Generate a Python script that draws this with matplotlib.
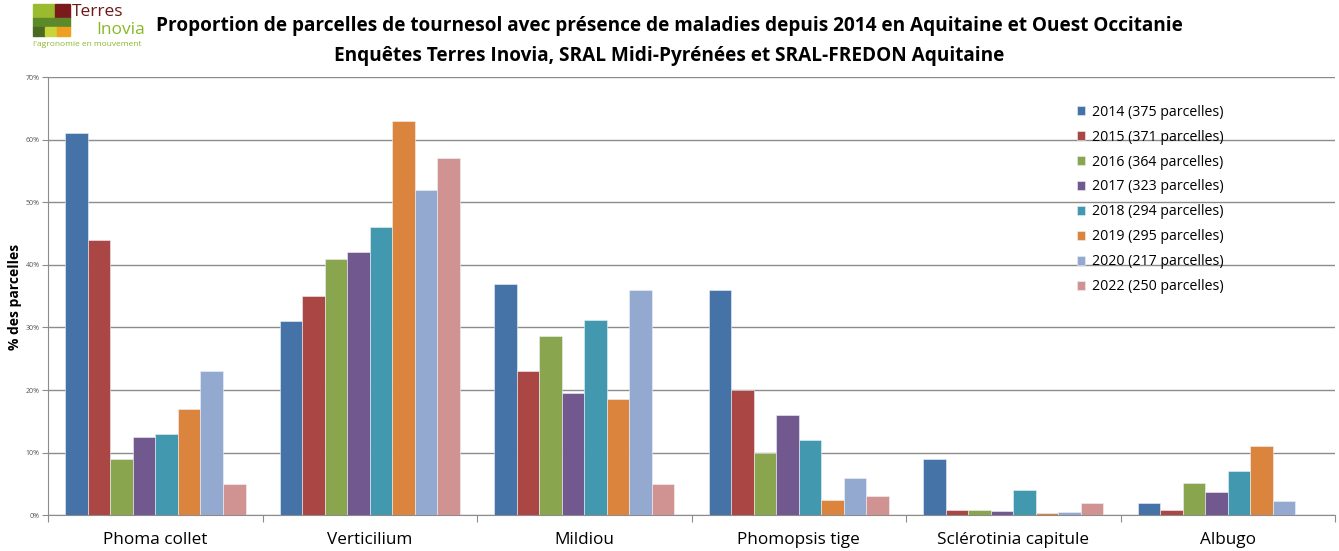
import matplotlib.pyplot as plt
import matplotlib.patches as mpatches
import numpy as np

maladies = ["Phoma collet", "Verticilium", "Mildiou", "Phomopsis tige",
            "Sclérotinia capitule", "Albugo"]
annees = ["2014 (375 parcelles)", "2015 (371 parcelles)", "2016 (364 parcelles)",
          "2017 (323 parcelles)", "2018 (294 parcelles)", "2019 (295 parcelles)",
          "2020 (217 parcelles)", "2022 (250 parcelles)"]

# % of plots per year, one list per disease order above
v2014 = [61, 31, 37, 36, 9, 1.9]
v2015 = [44, 35, 23, 20, 0.9, 0.9]
v2016 = [9, 41, 28.6, 10, 0.9, 5.1]
v2017 = [12.5, 42, 19.5, 16, 0.6, 3.7]
v2018 = [13, 46, 31.2, 12, 4, 7.1]
v2019 = [17, 63, 18.6, 2.5, 0.3, 11.1]
v2020 = [23, 52, 36, 6, 0.45, 2.2]
v2022 = [5, 57, 5, 3, 1.9, 0]

series = [v2014, v2015, v2016, v2017, v2018, v2019, v2020, v2022]
couleurs = ["#4572A7", "#AA4643", "#89A54E", "#71588F",
            "#4198AF", "#DB843D", "#93A9CF", "#D19392"]

plt.rcParams['font.family'] = ['Open Sans', 'DejaVu Sans']

fig = plt.figure(figsize=(13.39, 5.51), dpi=100)
ax = fig.add_axes([0.036, 0.065, 0.961, 0.795])

n = len(series)
w = 0.84 / n
x = np.arange(len(maladies))
for i, (vals, c, lab) in enumerate(zip(series, couleurs, annees)):
    ax.bar(x - 0.42 + w * (i + 0.5), vals, width=w, color=c, label=lab,
           edgecolor="#eef2f8", linewidth=0.4, zorder=3)

ax.set_xlim(-0.5, len(maladies) - 0.5)
ax.set_ylim(0, 70)
ax.set_yticks(range(0, 71, 10))
ax.set_yticklabels([f"{t}%" for t in range(0, 71, 10)], fontsize=5, color="#555555")
ax.yaxis.grid(True, color="#8c8c8c", linewidth=1, zorder=0)
ax.tick_params(axis="y", length=4, color="#8c8c8c", pad=2)

ax.set_xticks(np.arange(-0.5, len(maladies), 1))
ax.set_xticklabels([])
ax.set_xticks(x, minor=True)
ax.set_xticklabels(maladies, minor=True, fontsize=12.3)
ax.tick_params(axis="x", which="major", length=5, color="#8c8c8c", direction="out")
ax.tick_params(axis="x", which="minor", length=0, pad=12)

for s in ["top", "right"]:
    ax.spines[s].set_visible(False)
for s in ["left", "bottom"]:
    ax.spines[s].set_color("#8c8c8c")

fig.text(15 / 1339, 1 - 297 / 551, "% des parcelles", rotation=90, fontsize=10,
         fontweight="bold", ha="center", va="center")

ax.legend(loc="upper left", bbox_to_anchor=(0.795, 0.95), frameon=False,
          fontsize=10.2, handlelength=0.6, handleheight=0.6,
          labelspacing=0.7, handletextpad=0.5, borderaxespad=0)

fig.text(0.5, 0.952, "Proportion de parcelles de tournesol avec présence de maladies "
         "depuis 2014 en Aquitaine et Ouest Occitanie",
         ha="center", va="center", fontsize=13.7, fontweight="bold")
fig.text(0.5, 0.898, "Enquêtes Terres Inovia, SRAL Midi-Pyrénées et SRAL-FREDON Aquitaine",
         ha="center", va="center", fontsize=13.7, fontweight="bold")

# logo
logo = [(33, 4, 22, 14, "#9bbb2e"), (55, 4, 15, 14, "#7a1a1a"),
        (33, 18, 37, 9, "#5c8a2a"), (33, 27, 12, 9, "#4a6a20"),
        (45, 27, 12, 9, "#c8d43a"), (57, 27, 13, 9, "#f0a020")]
for lx, ly, lw, lh, lc in logo:
    fig.patches.append(mpatches.Rectangle((lx / 1339, 1 - (ly + lh) / 551),
                                          lw / 1339, lh / 551, color=lc,
                                          transform=fig.transFigure))
fig.text(72 / 1339, 1 - 12 / 551, "Terres", fontsize=12.5, color="#6b1a1a", va="center")
fig.text(96 / 1339, 1 - 30 / 551, "Inovia", fontsize=12.5, color="#8ab82a", va="center")
fig.text(33 / 1339, 1 - 45 / 551, "l'agronomie en mouvement", fontsize=6,
         color="#8ab82a", va="center")

fig.savefig("out.png", dpi=100)
